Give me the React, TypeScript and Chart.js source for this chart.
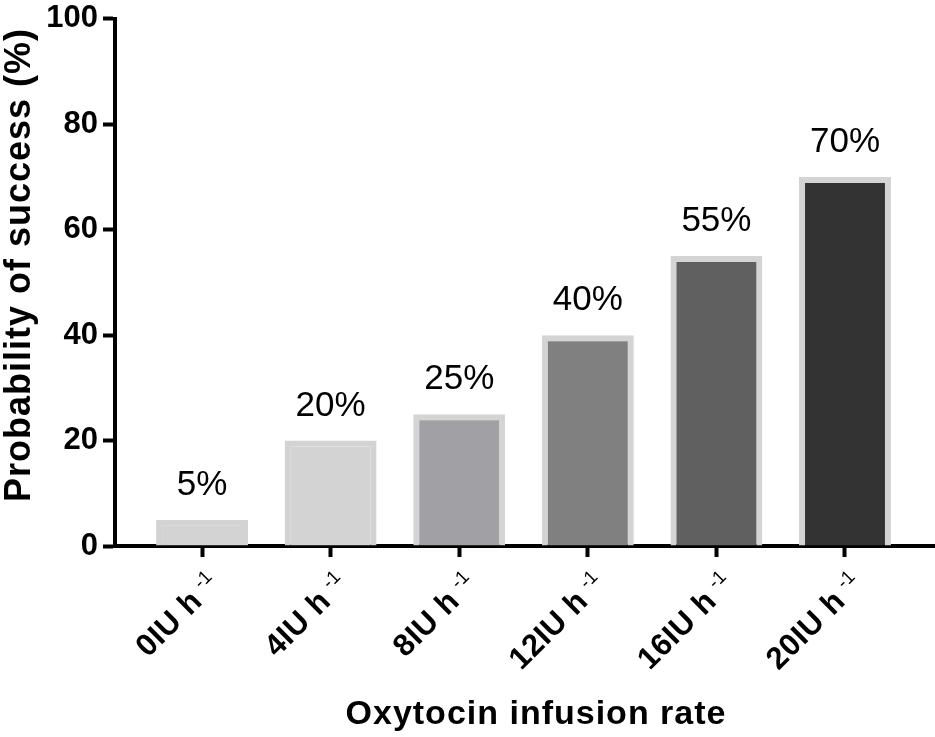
import { useEffect, useRef } from "react";
import { Chart, registerables } from "chart.js";

Chart.register(...registerables);

const categories = ["0IU h", "4IU h", "8IU h", "12IU h", "16IU h", "20IU h"];
const tickSuperscript = "-1";
const successRate = [5, 20, 25, 40, 55, 70];
const valueLabels = ["5%", "20%", "25%", "40%", "55%", "70%"];
const barColors = ["#d3d3d3", "#d3d3d3", "#a1a1a5", "#808080", "#606060", "#333333"];
const barBorderColors = ["#d3d3d3", "#d3d3d3", "#d4d4d4", "#d4d4d4", "#d4d4d4", "#d4d4d4"];
const yTicks = [0, 20, 40, 60, 80, 100];
const xTitle = "Oxytocin infusion rate";
const yTitle = "Probability of success (%)";

const FONT = '"Liberation Sans", Arial, Helvetica, sans-serif';

const annotate = {
  id: "annotate",
  afterDraw(chart: any) {
    const ctx = chart.ctx as CanvasRenderingContext2D;
    const xs = chart.scales.x;
    const ys = chart.scales.y;
    const meta = chart.getDatasetMeta(0);
    ctx.save();
    ctx.fillStyle = "#000";

    // value labels above bars
    ctx.font = `35px ${FONT}`;
    ctx.textAlign = "center";
    ctx.textBaseline = "alphabetic";
    meta.data.forEach((bar: any, i: number) => {
      ctx.fillText(valueLabels[i], bar.x, ys.getPixelForValue(successRate[i]) - 25);
    });

    // rotated category labels with superscript
    categories.forEach((c, i) => {
      const px = xs.getPixelForValue(i);
      ctx.save();
      ctx.translate(px + 1, ys.bottom + 22);
      ctx.rotate(-Math.PI / 4);
      ctx.textAlign = "right";
      ctx.textBaseline = "alphabetic";
      (ctx as any).letterSpacing = "0px";
      ctx.font = `19px ${FONT}`;
      const ws = ctx.measureText(tickSuperscript).width;
      ctx.fillText(tickSuperscript, 0, 14);
      (ctx as any).letterSpacing = "0.6px";
      ctx.font = `bold 31px ${FONT}`;
      ctx.fillText(c, -ws - 7, 25);
      ctx.restore();
    });

    // axis titles
    (ctx as any).letterSpacing = "1px";
    ctx.font = `bold 34px ${FONT}`;
    ctx.textAlign = "center";
    ctx.textBaseline = "alphabetic";
    ctx.fillText(xTitle, 536, 724);

    ctx.save();
    ctx.translate(30, 265);
    ctx.rotate(-Math.PI / 2);
    ctx.font = `bold 36px ${FONT}`;
    ctx.fillText(yTitle, 0, 0);
    ctx.restore();

    ctx.restore();
  },
};

export default function App() {
  const ref = useRef<HTMLCanvasElement | null>(null);

  useEffect(() => {
    document.body.style.margin = "0";
    const canvas = ref.current;
    if (!canvas) return;
    const chart = new Chart(canvas, {
      type: "bar",
      data: {
        datasets: [
          {
            data: successRate.map((v, i) => ({ x: i, y: v })),
            backgroundColor: barColors,
            borderColor: barBorderColors,
            borderWidth: 6,
            borderSkipped: "start",
            barPercentage: 0.715,
            categoryPercentage: 1,
          } as any,
        ],
      },
      options: {
        responsive: false,
        animation: false,
        layout: { padding: { top: 15, right: 0, bottom: 0, left: 0 } },
        plugins: {
          legend: { display: false },
          tooltip: { enabled: false },
        },
        scales: {
          x: {
            type: "linear",
            min: -0.677,
            max: 5.7,
            offset: false,
            afterBuildTicks: (s: any) => {
              s.ticks = categories.map((_, i) => ({ value: i }));
            },
            ticks: { display: false },
            grid: {
              display: true,
              offset: false,
              drawOnChartArea: false,
              drawTicks: true,
              tickLength: 11,
              tickWidth: 4,
              tickColor: "#000",
            },
            border: { display: true, color: "#000", width: 4 },
            afterFit: (s: any) => {
              s.height = 191;
            },
          } as any,
          y: {
            min: 0,
            max: 100,
            afterBuildTicks: (s: any) => {
              s.ticks = yTicks.map((v) => ({ value: v }));
            },
            ticks: {
              font: { family: FONT, size: 31, weight: "bold", lineHeight: 0.9 },
              color: "#000",
              padding: 5,
            },
            grid: {
              drawOnChartArea: false,
              drawTicks: true,
              tickLength: 12,
              tickWidth: 4,
              tickColor: "#000",
            },
            border: { display: true, color: "#000", width: 4 },
            afterFit: (s: any) => {
              s.width = 115;
            },
          } as any,
        },
      },
      plugins: [annotate],
    });
    return () => chart.destroy();
  }, []);

  return (
    <div style={{ width: 935, height: 737, background: "#fff" }}>
      <canvas ref={ref} width={935} height={737} style={{ display: "block" }} />
    </div>
  );
}
